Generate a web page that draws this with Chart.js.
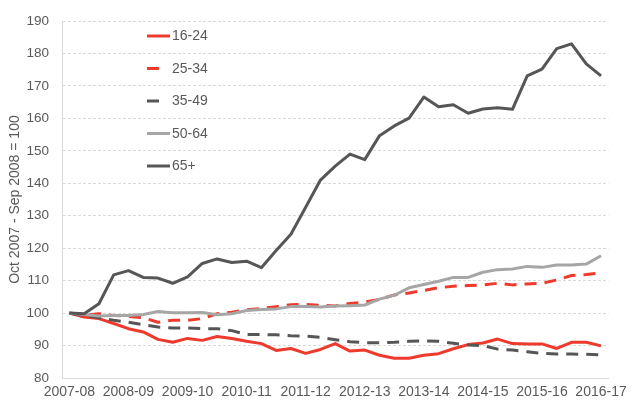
<!DOCTYPE html>
<html>
<head>
<meta charset="utf-8">
<script src="https://cdn.jsdelivr.net/npm/chart.js@4/dist/chart.umd.min.js"></script>
<style>
html,body{margin:0;padding:0;background:#fff;}
#wrap{position:relative;width:633px;height:401px;}
</style>
</head>
<body>
<div id="wrap"><canvas id="c" width="633" height="401"></canvas></div>
<script>
// Tick labels (financial years) — one label per 4 quarterly points
const years = ["2007-08","2008-09","2009-10","2010-11","2011-12","2012-13","2013-14","2014-15","2015-16","2016-17"];
const seriesNames = ["16-24","25-34","35-49","50-64","65+"];

const age1624 = [100,98.8,98.3,96.8,95.2,94.2,91.9,91.0,92.2,91.6,92.8,92.2,91.3,90.6,88.5,89.1,87.6,88.8,90.6,88.3,88.6,87.0,86.1,86.1,87.0,87.5,89.0,90.3,90.8,92.0,90.6,90.5,90.5,89.1,91.0,91.0,89.9];
const age2534 = [100,99.3,99.8,99.3,99.0,98.6,97.2,97.8,97.8,98.3,99.8,100.3,101.0,101.4,102.0,102.6,102.7,102.4,102.2,103.0,103.4,104.2,105.6,106.2,107.0,107.8,108.3,108.5,108.7,109.2,108.7,109.0,109.2,110.2,111.6,111.9,112.4];
const age3549 = [100,99.2,98.6,97.8,97.2,96.4,95.7,95.4,95.4,95.2,95.2,94.6,93.4,93.4,93.3,93.0,92.9,92.5,91.8,91.2,90.9,90.9,91.0,91.3,91.4,91.3,90.7,90.2,90.0,88.9,88.6,88.1,87.6,87.4,87.4,87.3,87.1];
const age5064 = [100,99.6,99.1,99.3,99.3,99.6,100.5,100.1,100.1,100.2,99.5,99.8,100.8,101.1,101.3,102.0,102.0,101.9,102.2,102.3,102.5,104.3,105.5,107.8,108.8,109.8,111.0,111.0,112.6,113.4,113.6,114.4,114.1,114.8,114.8,115.1,117.7];
const age65 = [100,99.8,102.9,111.8,113.1,111.0,110.8,109.2,111.2,115.3,116.7,115.6,116.0,114.0,119.3,124.3,132.6,141.0,145.3,149.0,147.3,154.7,157.7,160.1,166.6,163.6,164.2,161.6,162.9,163.3,162.8,173.1,175.2,181.5,183.0,176.8,173.1];

const yMin = 80, yMax = 190, yStep = 10;

const labels = age65.map((_, i) => (i % 4 === 0 ? years[i / 4] : ""));

const RED = "#EE3A2C", DARK = "#565656", LIGHT = "#A6A6A6", TXT = "#595959";
const DASH = [12, 8];

const styles = [
  {color: RED, dash: []},
  {color: RED, dash: DASH},
  {color: DARK, dash: DASH},
  {color: LIGHT, dash: []},
  {color: DARK, dash: []}
];
const values = [age1624, age2534, age3549, age5064, age65];

const datasets = values.map((v, i) => ({
  label: seriesNames[i],
  data: v,
  borderColor: styles[i].color,
  backgroundColor: styles[i].color,
  borderDash: styles[i].dash,
  borderWidth: 3,
  borderCapStyle: "butt",
  borderJoinStyle: "round",
  pointRadius: 0,
  pointHoverRadius: 0,
  tension: 0,
  fill: false,
  order: values.length - 1 - i
}));

const legendPlugin = {
  id: "insideLegend",
  afterDraw(chart) {
    const ctx = chart.ctx;
    const x0 = 147, y0 = 36, gap = 32.5;
    ctx.save();
    chart.data.datasets.forEach((ds, i) => {
      const y = y0 + i * gap;
      ctx.beginPath();
      ctx.strokeStyle = ds.borderColor;
      ctx.lineWidth = 3;
      ctx.lineCap = "butt";
      const len = ds.borderDash && ds.borderDash.length ? 12 : 23;
      ctx.moveTo(x0, y);
      ctx.lineTo(x0 + len, y);
      ctx.stroke();
      ctx.fillStyle = TXT;
      ctx.font = "14px 'Liberation Sans', Arial, sans-serif";
      ctx.textBaseline = "middle";
      ctx.textAlign = "left";
      ctx.fillText(ds.label, 172, y + 0.5);
    });
    ctx.restore();
  }
};

new Chart(document.getElementById("c"), {
  type: "line",
  data: {labels, datasets},
  plugins: [legendPlugin],
  options: {
    responsive: false,
    animation: false,
    events: [],
    layout: {padding: {top: 19, right: 19.5, bottom: 0, left: 0}},
    plugins: {legend: {display: false}, tooltip: {enabled: false}},
    scales: {
      x: {
        offset: true,
        grid: {display: false, drawTicks: false},
        border: {display: true, color: "#D9D9D9", width: 1},
        ticks: {
          autoSkip: false, maxRotation: 0, minRotation: 0, padding: 6,
          color: TXT, font: {family: "'Liberation Sans', Arial, sans-serif", size: 14}
        },
        afterFit(scale) { scale.height = 23; }
      },
      y: {
        min: yMin, max: yMax,
        grid: {color: "#D9D9D9", lineWidth: 1, drawTicks: false},
        border: {display: true, color: "#D9D9D9", width: 1, dash: [3, 2]},
        ticks: {
          stepSize: yStep, padding: 13, color: TXT,
          font: {family: "'Liberation Sans', Arial, sans-serif", size: 13.5}
        },
        title: {
          display: true, text: "Oct 2007 - Sep 2008 = 100", color: TXT,
          font: {family: "'Liberation Sans', Arial, sans-serif", size: 14},
          padding: {top: 6.6, bottom: 0}
        },
        afterFit(scale) { scale.width = 62; }
      }
    }
  }
});
</script>
</body>
</html>
